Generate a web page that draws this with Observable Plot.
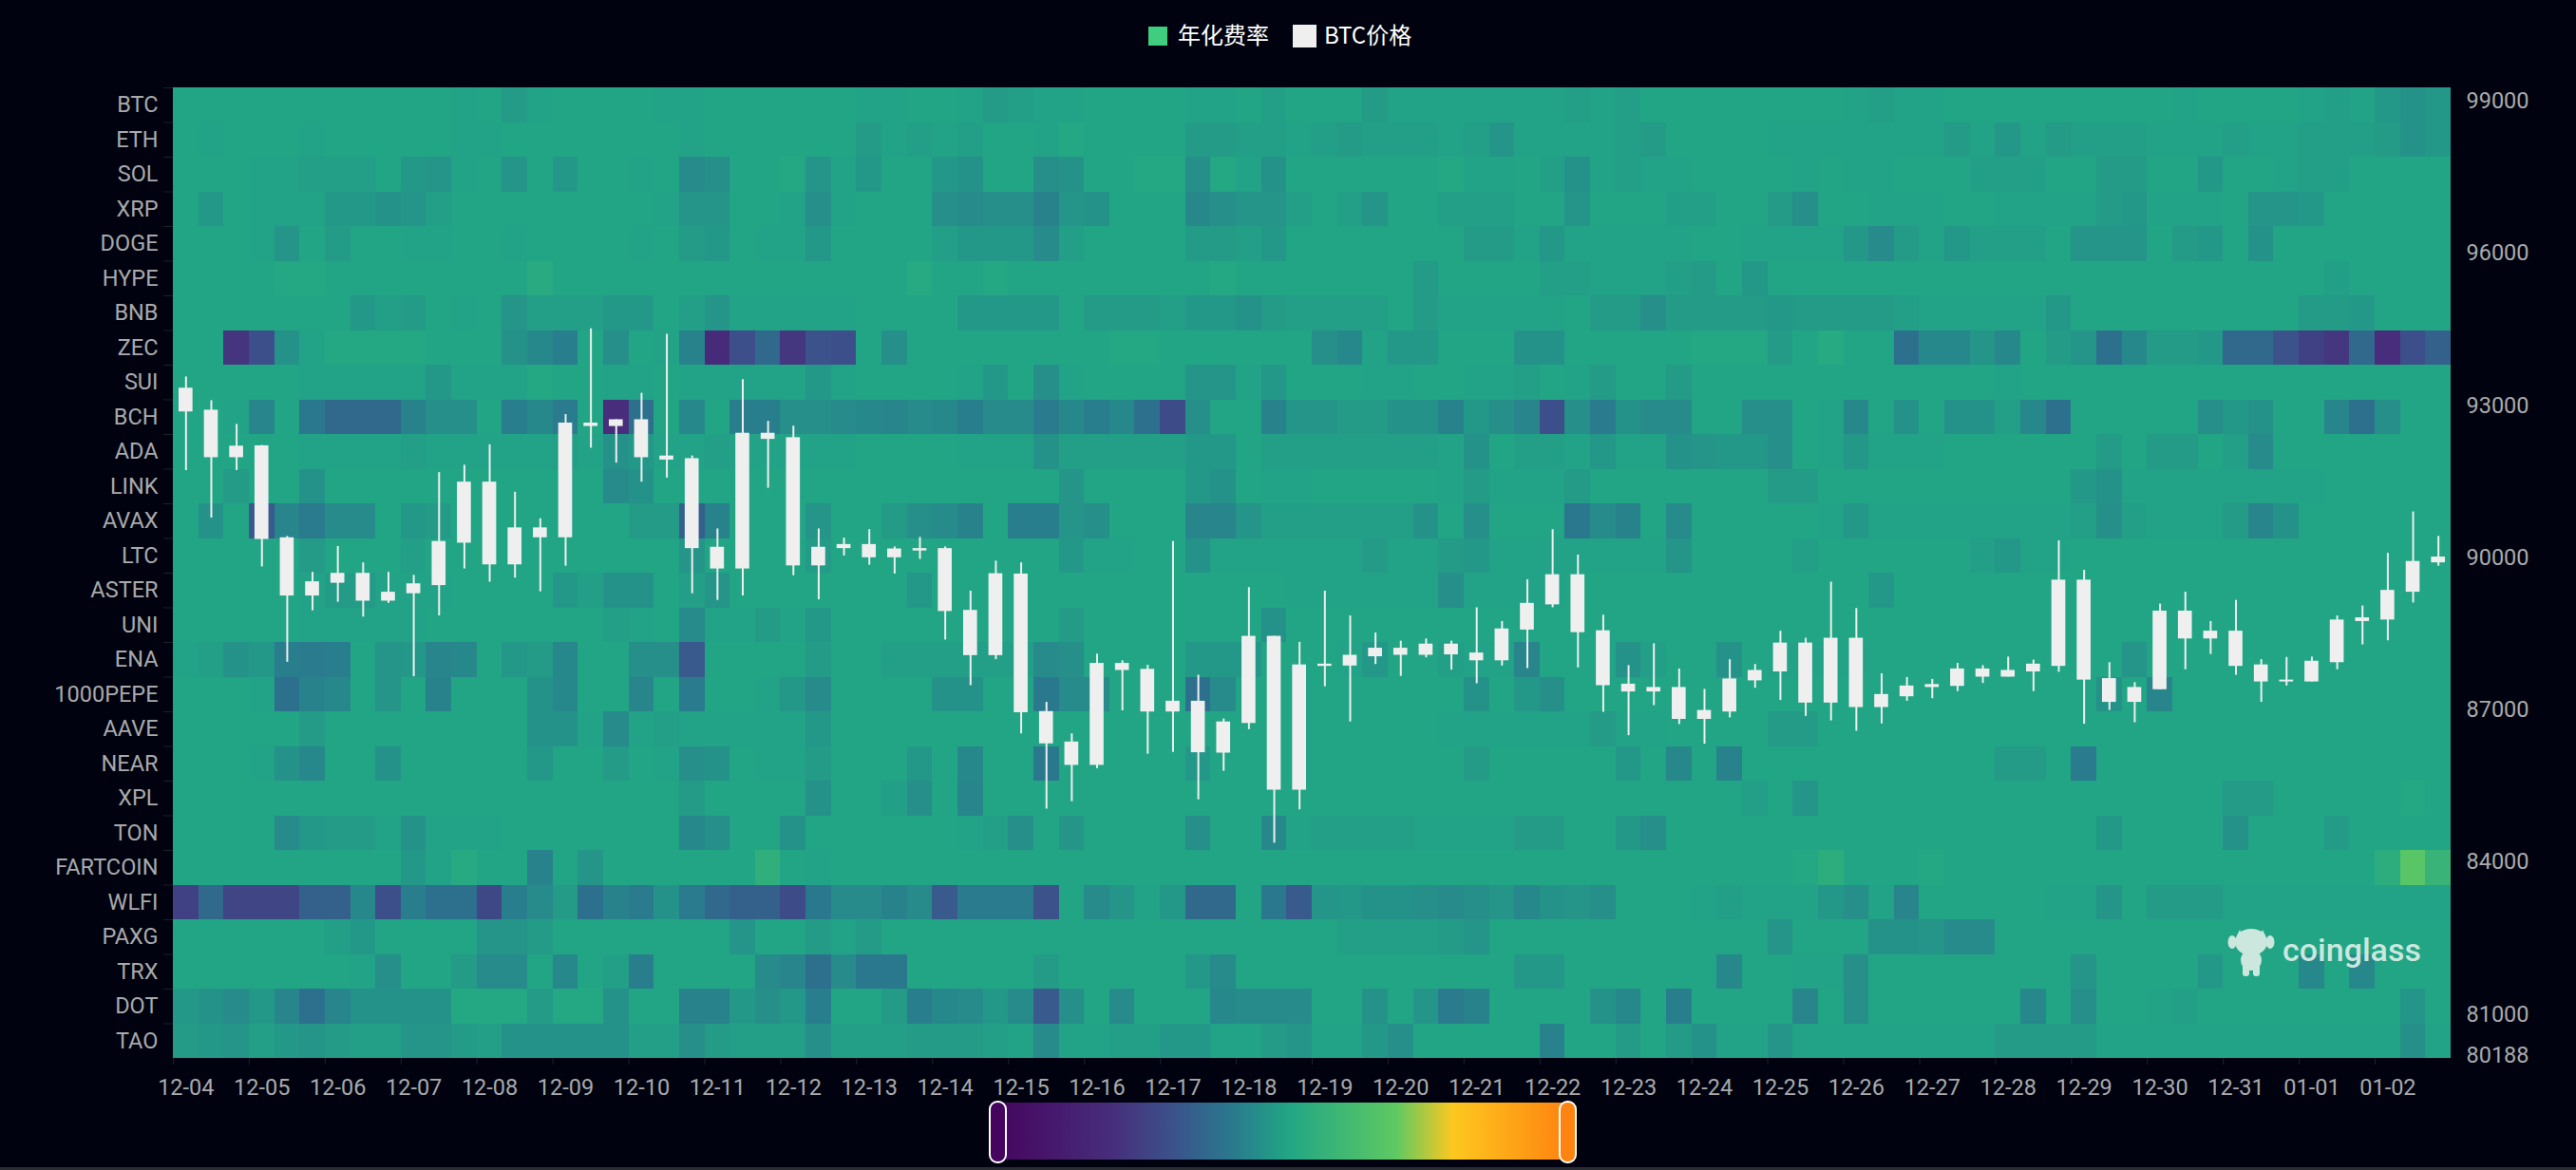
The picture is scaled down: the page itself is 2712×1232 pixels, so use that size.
<!DOCTYPE html>
<html>
<head>
<meta charset="utf-8">
<script src="https://cdn.jsdelivr.net/npm/d3@7"></script>
<script src="https://cdn.jsdelivr.net/npm/@observablehq/plot@0.6"></script>
<style>
html,body{margin:0;padding:0;background:#00030f;overflow:hidden}
#stage{position:relative;width:2712px;height:1232px;background:#00030f;overflow:hidden}
#stage>div,#stage>svg{position:absolute}
.plot-layer{left:0;top:0}
.lg{font-family:"Noto Sans CJK SC","Noto Sans",sans-serif;font-size:24px;color:#fff;line-height:32px;white-space:nowrap}
</style>
</head>
<body>
<div id="stage"></div>
<script>
const coins = ["BTC","ETH","SOL","XRP","DOGE","HYPE","BNB","ZEC","SUI","BCH","ADA","LINK","AVAX","LTC","ASTER","UNI","ENA","1000PEPE","AAVE","NEAR","XPL","TON","FARTCOIN","WLFI","PAXG","TRX","DOT","TAO"];
const days = ["12-04","12-05","12-06","12-07","12-08","12-09","12-10","12-11","12-12","12-13","12-14","12-15","12-16","12-17","12-18","12-19","12-20","12-21","12-22","12-23","12-24","12-25","12-26","12-27","12-28","12-29","12-30","12-31","01-01","01-02"];
const priceTicks = [80188,81000,84000,87000,90000,93000,96000,99000];

// funding-rate values, one per 8h slot, on a 0-100 scale
const BTC = [50,50,50,50,50,50,50,50,50,50, 50,49,50,47,49,50,50,50,50,49, 49,50,50,50,50,50,50,49,49,50, 50,49,47,48,49,49,50,50,50,50, 49,49,50,48,50,50,50,47,49,49, 49,49,49,49,49,48,49,48,50,50, 50,50,50,50,50,50,49,48,49,49, 50,50,50,50,50,50,50,50,50,49, 50,50,50,50,49,48,49,46,44,46];
const ETH = [50,49,50,50,50,49,50,50,50,50, 50,49,49,50,50,50,50,50,50,50, 49,50,50,50,50,50,50,47,49,48, 49,48,50,50,49,51,50,50,50,50, 47,47,48,48,49,48,47,48,48,48, 49,48,45,49,49,49,49,48,47,50, 50,50,50,49,49,49,49,49,49,49, 47,49,46,49,47,48,48,48,49,49, 49,48,49,49,48,48,48,47,44,46];
const SOL = [50,50,50,49,49,48,48,48,50,46, 45,49,50,45,50,46,50,50,49,50, 42,43,50,50,51,45,49,46,50,50, 46,44,50,50,43,44,50,50,51,51, 43,51,49,44,50,50,50,50,50,50, 51,49,49,50,48,44,49,48,49,49, 50,50,50,50,49,50,49,49,50,50, 50,48,48,48,50,50,47,47,50,50, 46,50,50,49,48,48,50,50,50,50];
const XRP = [50,46,50,49,49,49,46,46,44,45, 48,50,50,50,50,50,50,50,50,49, 45,45,50,50,49,43,49,50,50,50, 43,42,43,43,39,45,44,50,50,50, 41,43,45,45,48,50,48,45,50,50, 48,48,48,50,50,45,50,50,50,48, 48,50,50,47,43,50,50,49,49,49, 50,50,49,49,49,49,47,46,49,49, 49,50,45,45,46,50,50,50,50,50];
const DOGE = [50,50,50,49,45,50,47,50,50,49, 49,50,50,49,50,50,50,50,49,50, 47,46,50,49,49,46,50,50,50,50, 48,46,46,46,42,48,50,50,50,50, 47,47,48,46,50,50,50,50,50,50, 50,47,47,49,46,49,49,49,49,49, 50,50,49,49,49,49,46,42,47,49, 46,48,48,48,50,45,45,45,50,47, 46,50,44,50,50,50,50,50,50,50];
const HYPE = [50,50,50,50,51,51,50,50,50,50, 50,50,50,50,53,50,50,50,50,50, 50,50,50,50,50,50,50,50,50,52, 50,50,51,50,50,50,50,50,50,50, 50,51,50,50,50,50,50,50,50,47, 50,50,50,50,48,48,49,49,49,48, 47,50,46,50,50,50,50,50,50,50, 50,50,50,50,50,50,50,50,50,50, 50,50,50,50,50,48,50,50,50,50];
const BNB = [50,50,50,50,50,50,50,46,48,47, 50,49,50,45,48,48,48,46,46,50, 48,45,49,49,49,49,49,50,50,50, 50,46,46,46,46,50,47,47,47,48, 46,46,44,47,48,48,48,48,50,47, 49,49,49,49,49,50,47,47,43,47, 47,47,47,46,47,47,47,47,48,49, 49,49,49,49,46,50,50,50,50,50, 50,50,50,50,47,47,46,50,50,50];
const ZEC = [50,50,22,30,44,49,51,51,51,51, 50,50,50,44,41,38,50,43,50,49, 39,19,30,34,23,31,30,50,43,50, 50,50,50,50,50,50,50,51,51,50, 50,50,50,50,50,43,41,49,46,46, 50,50,50,44,44,50,50,50,50,50, 51,51,51,47,50,52,50,50,35,41, 41,45,41,50,47,45,35,41,47,47, 46,34,34,31,26,23,34,20,30,33];
const SUI = [50,50,50,50,50,49,49,49,49,49, 46,49,49,49,51,50,50,49,49,50, 49,49,49,49,49,46,49,50,50,50, 50,49,46,50,43,49,50,50,50,50, 45,45,49,46,50,50,50,49,49,50, 50,49,49,48,50,49,47,50,50,47, 50,50,50,50,50,50,50,50,50,50, 50,50,49,50,50,50,50,50,50,50, 50,50,50,50,50,50,50,50,50,50];
const BCH = [50,50,49,40,50,36,34,34,34,39, 43,43,50,38,41,37,50,20,35,50, 41,50,38,38,43,43,42,41,40,42, 41,38,42,42,37,41,38,41,35,29, 43,50,50,39,45,45,47,47,44,44, 39,46,43,40,30,43,37,44,42,42, 50,50,43,43,50,49,41,50,44,50, 44,44,48,41,35,50,50,50,50,50, 43,46,44,50,50,40,35,43,50,50];
const ADA = [50,50,50,50,50,49,49,49,49,48, 49,49,49,49,49,48,49,44,46,49, 49,48,49,49,49,49,49,50,50,50, 50,49,49,49,44,48,48,48,48,48, 46,46,50,48,48,48,48,48,48,48, 49,44,50,48,48,49,46,49,49,44, 45,46,46,43,50,49,46,49,49,49, 50,50,50,50,50,50,47,50,47,47, 50,48,42,50,50,50,50,50,50,50];
const LINK = [50,50,47,50,50,44,50,50,50,50, 50,50,50,50,50,50,50,42,44,50, 50,50,50,50,50,50,50,50,50,50, 50,50,50,50,50,45,50,50,50,50, 46,44,50,49,49,50,50,50,50,50, 49,47,49,49,49,47,50,50,50,50, 50,50,50,47,47,50,50,50,50,50, 50,50,50,50,50,46,44,49,49,49, 49,49,49,49,49,50,50,50,50,50];
const AVAX = [50,44,50,32,40,37,42,42,50,46, 47,50,50,50,50,50,50,50,47,47, 33,39,50,50,50,45,50,50,47,43, 42,39,50,38,38,45,43,50,50,50, 40,40,45,48,48,48,48,48,48,44, 50,43,50,50,50,36,42,39,50,42, 50,50,50,50,50,49,46,49,49,49, 49,49,49,49,49,48,43,48,49,49, 49,47,40,44,50,50,50,50,50,50];
const LTC = [50,50,50,50,50,47,50,50,50,48, 50,50,50,50,50,50,50,50,50,50, 45,50,50,50,50,47,50,50,50,50, 50,50,50,50,50,46,49,49,50,50, 44,49,49,49,49,49,49,47,49,49, 47,46,49,49,49,49,49,49,49,45, 50,50,50,50,48,50,50,50,50,50, 50,48,46,49,49,50,50,50,50,50, 50,50,50,50,50,50,50,50,50,50];
const ASTER = [50,50,50,50,50,49,47,47,49,49, 49,50,50,50,50,46,48,44,44,50, 48,45,50,50,50,50,50,50,50,46, 50,50,50,50,50,50,50,50,50,50, 50,50,50,50,49,49,49,49,49,49, 43,49,49,49,49,50,50,50,50,50, 50,50,50,50,50,50,50,46,50,50, 50,50,50,50,50,50,50,50,50,50, 50,50,50,50,50,50,50,50,50,50];
const UNI = [50,50,50,50,50,49,49,49,49,49, 50,50,50,50,50,50,50,48,49,50, 42,49,49,47,49,46,50,50,50,50, 50,50,50,50,50,47,50,50,50,50, 50,50,50,44,50,50,50,50,50,50, 50,50,50,50,50,50,50,50,50,50, 50,50,50,50,50,50,50,50,50,50, 50,50,50,50,50,50,50,50,50,50, 50,50,50,50,50,50,50,50,50,50];
const ENA = [49,48,44,46,38,37,38,50,45,46, 40,41,50,46,47,41,50,50,43,43, 32,50,50,50,50,47,50,50,48,48, 48,48,48,48,42,43,50,50,50,50, 46,46,46,50,50,50,49,46,50,50, 48,49,49,40,50,50,50,44,48,50, 50,44,50,49,49,49,49,50,50,50, 50,50,50,50,50,50,50,45,50,50, 50,50,50,50,50,50,50,50,50,50];
const PEPE1000 = [50,50,50,49,35,39,41,50,45,50, 39,50,50,50,44,41,50,50,40,50, 37,50,50,49,46,42,50,50,50,50, 44,44,50,50,36,42,42,50,50,50, 35,42,50,50,50,50,50,50,50,50, 50,44,50,46,43,50,50,50,50,50, 50,50,50,50,50,50,50,50,50,50, 50,50,50,50,50,50,44,50,40,50, 50,50,50,50,50,50,50,50,50,50];
const AAVE = [50,50,50,50,50,47,50,50,50,50, 50,50,50,50,44,44,49,42,49,48, 49,49,49,49,49,46,50,50,50,50, 50,50,50,50,50,50,50,50,50,50, 50,50,50,50,50,50,50,50,50,50, 49,49,49,49,49,49,47,49,49,50, 50,50,50,47,47,50,50,50,50,50, 50,50,50,50,50,50,50,50,50,50, 50,50,50,50,50,50,50,50,50,50];
const NEAR = [50,50,50,49,44,41,50,50,44,50, 50,50,50,50,46,50,50,47,50,49, 43,44,50,49,49,47,50,50,50,46, 50,41,50,50,36,50,50,50,50,50, 46,50,50,50,50,50,50,50,50,50, 50,47,50,50,50,50,50,46,50,41, 50,39,50,50,50,50,50,50,50,50, 50,50,47,47,50,37,50,50,50,50, 50,50,50,50,50,50,50,50,50,50];
const XPL = [50,50,50,50,50,50,50,50,50,50, 50,50,50,50,50,50,50,50,50,50, 47,50,50,50,50,44,50,50,48,43, 50,40,50,50,50,50,50,50,50,50, 50,50,50,50,50,50,50,50,50,50, 50,50,50,50,50,50,50,50,50,50, 50,50,48,50,45,50,50,50,50,50, 50,50,50,50,50,50,50,50,50,50, 50,47,47,50,50,50,50,50,51,50];
const TON = [50,50,50,50,42,46,47,47,49,44, 49,49,49,50,50,50,50,50,50,50, 41,43,50,50,44,50,50,50,50,50, 50,49,48,43,50,45,50,50,50,50, 43,50,50,41,49,48,48,48,48,49, 49,49,49,47,47,50,50,46,43,50, 50,50,50,50,50,50,50,50,50,50, 50,50,50,50,50,50,46,50,50,50, 50,44,50,50,50,47,50,50,50,50];
const FARTCOIN = [50,50,50,50,50,50,50,50,50,46, 49,52,50,50,39,50,45,50,50,50, 50,50,50,55,50,49,50,50,50,50, 50,50,50,50,50,50,50,50,50,50, 50,50,50,50,50,50,50,50,50,50, 50,50,50,50,50,50,50,50,50,50, 50,50,50,50,51,54,50,50,50,51, 50,50,50,50,50,50,50,50,50,50, 50,50,50,50,50,50,50,54,68,58];
const WLFI = [26,34,27,27,27,33,33,41,30,38, 35,35,28,38,42,47,35,39,37,44, 37,34,33,33,29,36,42,42,39,42, 32,37,37,37,31,50,42,45,49,46, 34,34,50,36,32,45,46,44,44,43, 42,43,45,41,44,45,43,50,50,50, 49,48,49,49,49,46,43,49,40,50, 50,50,50,50,49,49,45,50,47,47, 47,49,49,49,49,49,49,49,49,49];
const PAXG = [50,50,50,50,50,50,48,46,50,50, 50,50,45,45,47,50,50,50,50,50, 50,50,45,50,50,47,49,47,50,50, 50,50,50,50,50,50,50,50,50,50, 50,50,50,50,50,50,48,48,48,48, 47,45,50,50,50,50,50,50,50,50, 50,50,50,45,50,50,50,44,44,45, 42,42,50,50,50,50,50,50,50,50, 50,50,50,50,50,50,50,50,50,50];
const TRX = [50,50,50,50,50,50,50,49,43,50, 50,47,42,42,50,41,50,48,38,50, 50,50,50,42,40,35,42,36,36,50, 50,50,50,50,47,50,50,50,50,50, 46,42,50,50,50,50,50,50,50,50, 50,50,50,46,46,50,50,50,50,50, 50,41,50,50,49,49,43,50,50,50, 50,50,50,50,50,45,50,50,50,50, 46,50,50,50,41,50,41,50,50,50];
const DOT = [46,44,42,46,40,35,40,44,44,44, 44,51,51,51,47,51,51,44,50,50, 39,39,46,43,46,38,50,50,47,38, 41,42,46,42,32,43,50,42,50,50, 50,41,42,42,42,50,50,44,50,45, 37,39,50,50,50,50,44,41,50,38, 50,50,50,50,40,50,43,50,50,50, 50,50,50,41,50,43,50,50,49,48, 50,50,50,50,50,50,50,50,45,50];
const TAO = [47,46,45,48,46,45,47,48,48,45, 45,47,48,44,44,44,44,44,48,48, 43,47,48,48,48,43,48,48,48,47, 47,47,48,49,42,49,49,48,48,46, 46,49,49,47,45,49,49,46,43,50, 50,50,50,50,39,50,50,47,50,47, 44,49,49,45,49,49,49,49,49,49, 49,49,47,47,47,47,49,49,49,49, 49,49,49,49,49,49,49,49,43,49];
const rows = [BTC,ETH,SOL,XRP,DOGE,HYPE,BNB,ZEC,SUI,BCH,ADA,LINK,AVAX,LTC,ASTER,UNI,ENA,PEPE1000,AAVE,NEAR,XPL,TON,FARTCOIN,WLFI,PAXG,TRX,DOT,TAO];

// BTC 8h candles
const high = [93621,93153,92685,92270,90478,89770,90278,89957,89770,89710,91735,91882,92284,91348,90826,92879,94570,92778,93300,94463,92063,90625,93567,92745,92651,90625,90445,90612,90271,90458,90271,89399,89990,89957,87207,86586,88157,88026,87938,90378,87741,86879,89469,88508,88391,89399,88910,88574,88413,88457,88413,89071,88800,89623,90612,90111,88925,87931,88362,87865,87463,88048,87953,88610,88471,89576,89056,87770,87697,87660,87975,87931,88099,88040,90391,89810,87989,87595,89144,89378,88800,89217,88048,88092,88099,88910,89107,90144,90960,90478];
const bodyTop = [93400,92966,92257,92264,90451,89583,89750,89750,89378,89543,90378,91548,91548,90646,90646,92712,92712,92778,92778,92063,92010,90264,92511,92511,92424,90264,90318,90318,90231,90238,90238,89020,89743,89736,87025,86425,87975,87975,87858,87229,87229,86820,88508,88508,87945,87960,88135,88274,88274,88355,88355,88179,88654,89158,89723,89723,88618,87565,87500,87500,87047,87668,87836,88376,88376,88471,88471,87361,87529,87558,87865,87865,87836,87960,89616,89616,87675,87500,89005,89005,88610,88610,87945,87646,88018,88830,88873,89414,89984,90071];
const bodyBottom = [92932,92030,92030,90418,89304,89304,89555,89202,89202,89348,89509,90345,89917,89917,90451,90451,92645,92645,92030,91983,90238,89836,89836,92391,89897,89897,90238,90057,90057,90191,88998,88128,88128,87003,86389,85965,85965,87836,87017,87017,86214,86206,86791,85476,85476,87916,87923,88106,88135,88135,88143,88026,88026,88632,89129,88581,87536,87412,87412,86871,86871,87017,87631,87807,87193,87193,87105,87105,87317,87500,87522,87704,87704,87807,87916,87646,87207,87207,87456,88457,88457,87916,87609,87609,87609,87989,88800,88830,89378,89957];
const low = [91775,90840,91775,89877,87997,89012,89180,88888,89158,87712,88910,89836,89576,89656,89385,89890,92217,91923,91548,91628,89348,89217,89304,91428,89703,89228,90091,89910,89736,90024,88435,87536,88048,86586,85103,85249,85899,87039,86184,86221,85286,85848,86667,84431,85088,87514,86820,87953,87719,88084,87843,87573,87923,87872,89071,87887,87010,86550,87142,86769,86382,86900,87485,87244,86930,86842,86637,86784,87229,87280,87419,87580,87704,87419,87799,86776,87047,86805,87456,87850,88150,87741,87207,87529,87609,87850,88340,88420,89166,89890];

// colours: cellStops on the data's scale, barStops on the colour bar's own length
const colorRange = ["#45055f","#472d7b","#3b528b","#2a788e","#21a585","#5ec962","#fdc81f","#ff8310"];
const cellStops = [0,20,31,36,50,70,80,100];
const barStops = [0,20,31,41,51,70,80,100];

const W = 2712, H = 1232;
const frame = {width:W,height:H,marginLeft:182,marginRight:132,marginTop:92,marginBottom:118};
const labelFont = {fontFamily:"Roboto, sans-serif",fontSize:"23.5px",background:"transparent",overflow:"visible"};
const columns = d3.range(rows[0].length);
const cells = rows.flatMap((r,ri)=>r.map((v,i)=>({coin:coins[ri],i,v})));
const candles = columns.map(i=>({i,high:high[i],top:bodyTop[i],bottom:bodyBottom[i],low:low[i]}));
const grey = "#a9a9ac", tickGrey="#1d2029";

const heat = Plot.plot({
  ...frame, style:labelFont,
  x:{type:"band",domain:columns,padding:0,round:false,axis:null},
  y:{type:"band",domain:coins,padding:0,round:false,axis:null},
  color:{type:"linear",domain:cellStops,range:colorRange,clamp:true},
  marks:[
    Plot.cell(cells,{x:"i",y:"coin",fill:"v",shapeRendering:"crispEdges"}),
    Plot.axisY({anchor:"left",tickSize:0,tickPadding:16,label:null,fill:grey}),
    Plot.axisY({anchor:"left",tickSize:10,tickPadding:16,label:null,tickFormat:()=>"",stroke:tickGrey,dy:-18.25}),
    Plot.axisX({anchor:"bottom",ticks:d3.range(0,90,3),tickSize:0,tickPadding:22,label:null,fill:grey,tickFormat:d=>days[d/3]}),
    Plot.axisX({anchor:"bottom",ticks:d3.range(0,90,3),tickSize:7,label:null,stroke:tickGrey,tickFormat:()=>"",dx:-13.32})
  ]
});
heat.classList.add("plot-layer");

const price = Plot.plot({
  ...frame, style:labelFont,
  x:{type:"band",domain:columns,padding:0,round:false,axis:null},
  y:{type:"linear",domain:[80188,99320],axis:null},
  marks:[
    Plot.axisY({anchor:"right",ticks:priceTicks,tickFormat:d=>String(d),tickSize:0,tickPadding:16,label:null,fill:grey,dy:-3}),
    Plot.ruleX(candles,{x:"i",y1:"low",y2:"high",stroke:"#efefef",strokeWidth:2}),
    Plot.barY(candles,{x:"i",y1:"bottom",y2:"top",fill:"#efefef",insetLeft:6,insetRight:6})
  ]
});
price.classList.add("plot-layer");

const stage = document.getElementById("stage");
stage.append(heat, price);

function el(html){const t=document.createElement("template");t.innerHTML=html.trim();const n=t.content.firstChild;stage.append(n);return n;}

// legend
el(`<div style="left:1209px;top:28px;width:20px;height:20px;background:#3fce80"></div>`);
el(`<div class="lg" style="left:1240px;top:20px">年化费率</div>`);
el(`<div style="left:1361px;top:26px;width:25px;height:24px;background:#efefef"></div>`);
el(`<div class="lg" style="left:1394px;top:20px">BTC价格</div>`);

// colour bar
const grad = barStops.map((s,i)=>`${colorRange[i]} ${s}%`).join(",");
el(`<div style="left:1049px;top:1161px;width:601px;height:60px;background:linear-gradient(90deg,${grad})"></div>`);
el(`<div style="left:1041px;top:1159px;width:15px;height:62px;box-sizing:content-box;border:2px solid #fff;border-radius:9px;background:${colorRange[0]}"></div>`);
el(`<div style="left:1641px;top:1159px;width:15px;height:62px;box-sizing:content-box;border:2px solid #fff;border-radius:9px;background:${colorRange[colorRange.length-1]}"></div>`);
el(`<div style="left:0;top:1229px;width:2712px;height:3px;background:#2a2c33"></div>`);

// watermark
el(`<svg style="left:2345px;top:975px" width="50" height="54" viewBox="0 0 50 54"><g fill="#cbe7de">
<ellipse cx="25" cy="17" rx="17" ry="14"/><ellipse cx="5" cy="17" rx="4.5" ry="7"/><ellipse cx="45" cy="17" rx="4.5" ry="7"/>
<path d="M13 4l3 6h-6zM37 4l3 6h-6z"/><ellipse cx="25" cy="36" rx="11" ry="11"/><rect x="16" y="40" width="7" height="13" rx="3"/><rect x="27" y="40" width="7" height="13" rx="3"/></g></svg>`);
el(`<div style="left:2403px;top:980px;font-family:Roboto,sans-serif;font-weight:500;font-size:34px;line-height:40px;color:#cbe7de">coinglass</div>`);
</script>
</body>
</html>
